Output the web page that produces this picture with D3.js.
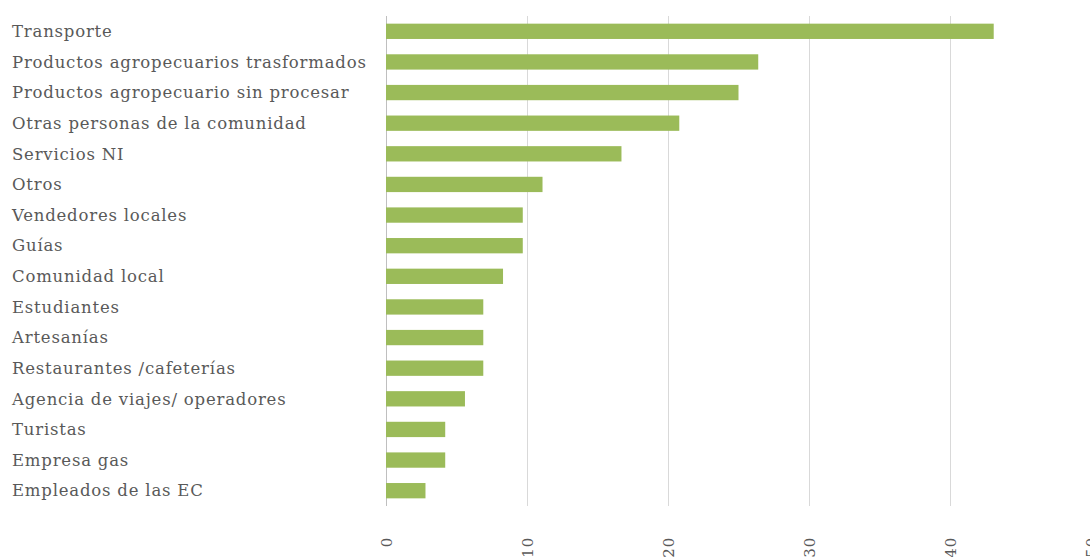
<!DOCTYPE html>
<html><head><meta charset="utf-8">
<script src="https://cdn.jsdelivr.net/npm/d3@7"></script>
<style>html,body{margin:0;padding:0;background:#fff;overflow:hidden}</style>
</head><body>
<svg id="c" width="1090" height="557"></svg>
<script>
const categories = ["Transporte","Productos agropecuarios trasformados","Productos agropecuario sin procesar","Otras personas de la comunidad","Servicios NI","Otros","Vendedores locales","Guías","Comunidad local","Estudiantes","Artesanías","Restaurantes /cafeterías","Agencia de viajes/ operadores","Turistas","Empresa gas","Empleados de las EC"];
const values = [43.1,26.4,25.0,20.8,16.7,11.1,9.7,9.7,8.3,6.9,6.9,6.9,5.6,4.2,4.2,2.8];
const ticks = [0,10,20,30,40,50];

const svg = d3.select("#c");
const x = d3.scaleLinear().domain([0,50]).range([386,1091]);
const y = d3.scaleBand().domain(categories).range([16,506]).paddingInner(0.5).paddingOuter(0.25);

svg.append("g").selectAll("line").data(ticks).join("line")
  .attr("x1",d=>x(d)).attr("x2",d=>x(d)).attr("y1",16).attr("y2",506)
  .attr("stroke",d=>d===0?"#bfbfbf":"#d9d9d9").attr("stroke-width",1).attr("shape-rendering","crispEdges");

svg.append("g").selectAll("rect").data(values).join("rect")
  .attr("x",x(0)).attr("y",(d,i)=>y(categories[i]))
  .attr("width",d=>x(d)-x(0)).attr("height",y.bandwidth())
  .attr("fill","#9bbb59");

svg.append("g").selectAll("text").data(categories).join("text")
  .attr("x",12).attr("y",d=>y(d)+y.bandwidth()/2).attr("dy","0.35em")
  .attr("font-family","DejaVu Serif").attr("font-size",16.5).attr("letter-spacing",0.8).attr("fill","#595959")
  .text(d=>d);

const xa = d3.axisBottom(x).tickValues(ticks).tickSize(0).tickPadding(0);
const g = svg.append("g").attr("transform","translate(0,533)").call(xa);
g.select(".domain").remove();
g.selectAll("text").attr("transform","rotate(-90)").attr("text-anchor","end")
  .attr("x",-4).attr("y",0).attr("dy","0.35em")
  .attr("font-family","DejaVu Serif").attr("font-size",15).attr("letter-spacing",0.8).attr("fill","#595959");
</script>
</body></html>
